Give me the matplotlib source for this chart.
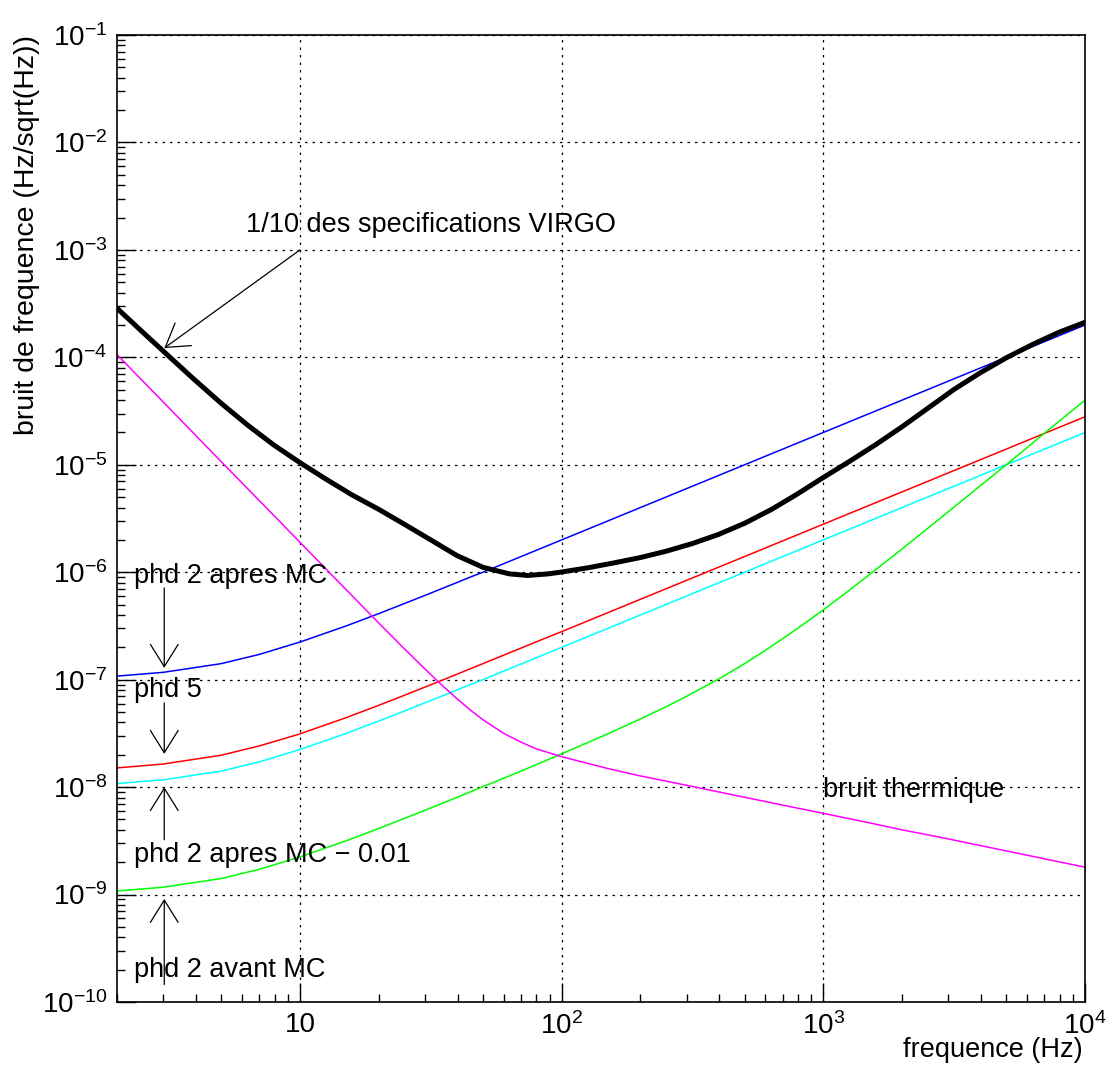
import numpy as np
import matplotlib
matplotlib.use("Agg")
import matplotlib.pyplot as plt
from matplotlib.ticker import FixedLocator, LogLocator, NullFormatter

plt.rcParams['font.family'] = ['Liberation Sans', 'DejaVu Sans']
plt.rcParams['mathtext.fontset'] = 'custom'
plt.rcParams['mathtext.rm'] = 'Liberation Sans'
plt.rcParams['mathtext.it'] = 'Liberation Sans:italic'
plt.rcParams['mathtext.bf'] = 'Liberation Sans:bold'

freq = [2, 3, 5, 7, 10, 15, 20, 25, 30, 35, 40, 45, 50, 60, 70, 80, 100, 150,
        200, 250, 300, 400, 500, 600, 700, 800, 1000, 1200, 1500, 2000, 2500,
        3000, 4000, 5000, 7000, 10000]

# phd 2 apres MC (blue)
phd2_apres = [1.08e-7, 1.17e-7, 1.41e-7, 1.72e-7, 2.24e-7, 3.16e-7, 4.12e-7, 5.1e-7,
              6.08e-7, 7.07e-7, 8.06e-7, 9.06e-7, 1.0e-6, 1.2e-6, 1.4e-6, 1.6e-6,
              2.0e-6, 3.0e-6, 4.0e-6, 5.0e-6, 6.0e-6, 8.0e-6, 1.0e-5, 1.2e-5,
              1.4e-5, 1.6e-5, 2.0e-5, 2.4e-5, 3.0e-5, 4.0e-5, 5.0e-5,
              6.0e-5, 8.0e-5, 1.0e-4, 1.4e-4, 2.0e-4]
# phd 5 (red)
phd5 = [1.51e-8, 1.64e-8, 1.98e-8, 2.42e-8, 3.13e-8, 4.43e-8, 5.77e-8, 7.14e-8,
        8.52e-8, 9.9e-8, 1.13e-7, 1.27e-7, 1.41e-7, 1.69e-7, 1.97e-7, 2.25e-7,
        2.8e-7, 4.2e-7, 5.6e-7, 7.0e-7, 8.4e-7, 1.12e-6, 1.4e-6, 1.68e-6,
        1.96e-6, 2.24e-6, 2.8e-6, 3.36e-6, 4.2e-6, 5.6e-6, 7.0e-6,
        8.4e-6, 1.12e-5, 1.4e-5, 1.96e-5, 2.8e-5]
# phd 2 apres MC - 0.01 (cyan)
phd2_apres_001 = [1.08e-8, 1.17e-8, 1.41e-8, 1.72e-8, 2.24e-8, 3.16e-8, 4.12e-8, 5.1e-8,
                  6.08e-8, 7.07e-8, 8.06e-8, 9.06e-8, 1.0e-7, 1.2e-7, 1.4e-7, 1.6e-7,
                  2.0e-7, 3.0e-7, 4.0e-7, 5.0e-7, 6.0e-7, 8.0e-7, 1.0e-6, 1.2e-6,
                  1.4e-6, 1.6e-6, 2.0e-6, 2.4e-6, 3.0e-6, 4.0e-6, 5.0e-6,
                  6.0e-6, 8.0e-6, 1.0e-5, 1.4e-5, 2.0e-5]
# phd 2 avant MC (green)
phd2_avant = [1.08e-9, 1.17e-9, 1.41e-9, 1.72e-9, 2.24e-9, 3.16e-9, 4.12e-9, 5.1e-9,
              6.08e-9, 7.07e-9, 8.06e-9, 9.06e-9, 1.01e-8, 1.21e-8, 1.41e-8, 1.62e-8,
              2.04e-8, 3.13e-8, 4.31e-8, 5.59e-8, 7.0e-8, 1.02e-7, 1.41e-7, 1.87e-7,
              2.41e-7, 3.02e-7, 4.47e-7, 6.24e-7, 9.49e-7, 1.65e-6, 2.55e-6,
              3.65e-6, 6.45e-6, 1.0e-5, 1.97e-5, 4.0e-5]
# bruit thermique (magenta)
thermique = [1.06e-4, 3.85e-5, 1.07e-5, 4.63e-6, 1.9e-6, 6.9e-7, 3.37e-7, 1.95e-7,
             1.26e-7, 8.82e-8, 6.58e-8, 5.17e-8, 4.24e-8, 3.17e-8, 2.62e-8, 2.27e-8,
             1.92e-8, 1.49e-8, 1.27e-8, 1.14e-8, 1.04e-8, 9.0e-9, 8.05e-9, 7.35e-9,
             6.8e-9, 6.36e-9, 5.7e-9, 5.2e-9, 4.65e-9, 4.0e-9, 3.6e-9,
             3.3e-9, 2.85e-9, 2.55e-9, 2.15e-9, 1.8e-9]

# 1/10 of the VIRGO specification (thick black)
virgo_f = [2, 2.51, 3.16, 3.98, 5.01, 6.31, 7.94, 10, 12.6, 15.8, 20, 25.1, 31.6,
           39.8, 50.1, 63.1, 74.1, 89.1, 100, 126, 158, 200, 251, 316, 398, 501,
           631, 794, 1000, 1259, 1585, 1995, 2512, 3162, 3981, 5012, 6310, 7943, 10000]
virgo = [2.86e-4, 1.71e-4, 1.02e-4, 6.10e-5, 3.72e-5, 2.34e-5, 1.53e-5, 1.047e-5,
         7.33e-6, 5.25e-6, 3.85e-6, 2.79e-6, 2.0e-6, 1.43e-6, 1.11e-6, 9.66e-7,
         9.33e-7, 9.66e-7, 1.005e-6, 1.10e-6, 1.22e-6, 1.37e-6, 1.57e-6, 1.85e-6,
         2.25e-6, 2.86e-6, 3.82e-6, 5.33e-6, 7.62e-6, 1.076e-5, 1.54e-5, 2.25e-5,
         3.37e-5, 5.04e-5, 7.19e-5, 9.93e-5, 1.32e-4, 1.71e-4, 2.12e-4]

xticks = [10, 100, 1000, 10000]
xticklabels = ['10', '$10^{2}$', '$10^{3}$', '$10^{4}$']
yticks = [10.0 ** e for e in range(-10, 0)]
yticklabels = ['$10^{%d}$' % e for e in range(-10, 0)]

fig = plt.figure(figsize=(11.18, 10.78), dpi=100)
ax = fig.add_axes([0.1047, 0.0705, 0.8658, 0.897])

ax.plot(freq, phd2_apres, color='#0000ff', lw=1.1)
ax.plot(freq, phd5, color='#ff0000', lw=1.1)
ax.plot(freq, phd2_apres_001, color='#00ffff', lw=1.1)
ax.plot(freq, phd2_avant, color='#00ff00', lw=1.1)
ax.plot(freq, thermique, color='#ff00ff', lw=1.1)
ax.plot(virgo_f, virgo, color='black', lw=3.6)

ax.set_xscale('log')
ax.set_yscale('log')
ax.set_xlim(2, 1e4)
ax.set_ylim(1e-10, 1e-1)

ax.xaxis.set_major_locator(FixedLocator(xticks))
ax.set_xticklabels(xticklabels)
ax.xaxis.set_minor_locator(LogLocator(base=10, subs=np.arange(2, 10)))
ax.xaxis.set_minor_formatter(NullFormatter())
ax.yaxis.set_major_locator(FixedLocator(yticks))
ax.set_yticklabels(yticklabels)
ax.yaxis.set_minor_locator(LogLocator(base=10, subs=np.arange(2, 10), numticks=20))
ax.yaxis.set_minor_formatter(NullFormatter())

ax.tick_params(which='both', direction='in', top=False, right=False, labelsize=20)
ax.tick_params(which='major', length=14, width=1)
ax.tick_params(which='minor', length=6, width=1)
ax.tick_params(axis='x', pad=7)
ax.tick_params(axis='y', pad=7)
ax.grid(which='major', color='black', linestyle=(0, (2, 4)), lw=0.9)
for sp in ax.spines.values():
    sp.set_linewidth(1.2)

tfs = 19.5
arrow = dict(arrowstyle='->,head_length=1.6,head_width=1.0', lw=0.9, color='black',
             shrinkA=0, shrinkB=0)

ax.text(6.22, 1.47e-3, '1/10 des specifications VIRGO', fontsize=tfs, va='baseline')
ax.annotate('', xy=(3.03, 1.22e-4), xytext=(10, 1e-3), arrowprops=arrow)

ax.text(2.32, 7.96e-7, 'phd 2 apres MC', fontsize=tfs, va='baseline')
ax.annotate('', xy=(3.03, 1.29e-7), xytext=(3.03, 7.14e-7), arrowprops=arrow)
ax.text(2.32, 6.92e-8, 'phd 5', fontsize=tfs, va='baseline')
ax.annotate('', xy=(3.03, 2.04e-8), xytext=(3.03, 6.08e-8), arrowprops=arrow)
ax.text(2.32, 2.02e-9, 'phd 2 apres MC \u2212 0.01', fontsize=tfs, va='baseline')
ax.annotate('', xy=(3.03, 1.0e-8), xytext=(3.03, 3.24e-9), arrowprops=arrow)
ax.text(2.32, 1.72e-10, 'phd 2 avant MC', fontsize=tfs, va='baseline')
ax.annotate('', xy=(3.03, 9.1e-10), xytext=(3.03, 1.45e-10), arrowprops=arrow)
ax.text(1000, 8.13e-9, 'bruit thermique', fontsize=tfs, va='baseline')

ax.set_xlabel('frequence (Hz)', fontsize=tfs)
ax.xaxis.set_label_coords(0.998, -0.036)
ax.xaxis.label.set_horizontalalignment('right')
ax.set_ylabel('bruit de frequence (Hz/sqrt(Hz))', fontsize=20.5)
ax.yaxis.set_label_coords(-0.106, 1.0)
ax.yaxis.label.set_verticalalignment('top')
ax.yaxis.label.set_horizontalalignment('right')

fig.savefig('out.png', dpi=100)
